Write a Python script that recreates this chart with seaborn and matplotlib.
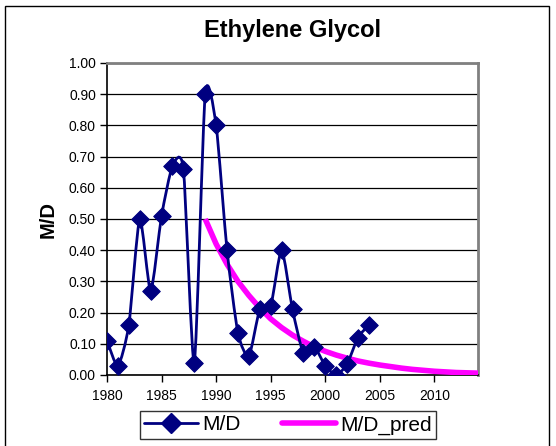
import numpy as np
import pandas as pd
import matplotlib
matplotlib.use("Agg")
import matplotlib.pyplot as plt
import seaborn as sns
from matplotlib.path import Path
from matplotlib.patches import PathPatch, Rectangle
from matplotlib.lines import Line2D

# observed M/D ratio per year
years = [1980, 1981, 1982, 1983, 1984, 1985, 1986, 1987, 1988, 1989, 1990, 1991,
         1992, 1993, 1994, 1995, 1996, 1997, 1998, 1999, 2000, 2001, 2002, 2003, 2004]
md = [0.11, 0.03, 0.16, 0.50, 0.27, 0.51, 0.67, 0.66, 0.04, 0.90, 0.80, 0.40,
      0.135, 0.06, 0.21, 0.22, 0.40, 0.21, 0.07, 0.09, 0.03, 0.00, 0.035, 0.12, 0.16]

# predicted M/D
pred_years = list(range(1989, 2015))
md_pred = [0.50, 0.42, 0.355, 0.30, 0.255, 0.215, 0.18, 0.152, 0.128, 0.108, 0.09,
           0.076, 0.064, 0.054, 0.045, 0.038, 0.032, 0.027, 0.022, 0.018, 0.015,
           0.012, 0.010, 0.008, 0.007, 0.006]

NAVY = "#000080"
PINK = "#ff00ff"

sns.set_theme(style="white")
plt.rcParams["font.family"] = ["Liberation Sans", "DejaVu Sans"]
plt.rcParams["text.color"] = "black"
plt.rcParams["axes.labelcolor"] = "black"
plt.rcParams["xtick.color"] = "black"
plt.rcParams["ytick.color"] = "black"

fig = plt.figure(figsize=(5.56, 4.46), dpi=100)
ax = fig.add_axes([107 / 556, 1 - 375 / 446, (478 - 107) / 556, (375 - 63) / 446])


def smooth_path(xs, ys, t=0.11):
    # smoothed line as cubic bezier segments through the points
    x = np.asarray(xs, float)
    y = np.asarray(ys, float)
    n = len(x)
    verts = [(x[0], y[0])]
    codes = [Path.MOVETO]
    for i in range(n - 1):
        p0 = (x[max(i - 1, 0)], y[max(i - 1, 0)])
        p1 = (x[i], y[i])
        p2 = (x[i + 1], y[i + 1])
        p3 = (x[min(i + 2, n - 1)], y[min(i + 2, n - 1)])
        c1 = (p1[0] + (p2[0] - p0[0]) * t, p1[1] + (p2[1] - p0[1]) * t)
        c2 = (p2[0] - (p3[0] - p1[0]) * t, p2[1] - (p3[1] - p1[1]) * t)
        verts += [c1, c2, p2]
        codes += [Path.CURVE4] * 3
    return Path(verts, codes)


df_pred = pd.DataFrame({"year": pred_years, "val": md_pred})
sns.lineplot(data=df_pred, x="year", y="val", ax=ax, color=PINK, lw=4,
             solid_capstyle="butt", zorder=3)

ax.add_patch(PathPatch(smooth_path(years, md), fill=False, edgecolor=NAVY,
                       lw=2, zorder=4))
df = pd.DataFrame({"year": years, "val": md})
sns.scatterplot(data=df, x="year", y="val", ax=ax, marker="D", s=80,
                color=NAVY, edgecolor=NAVY, zorder=5)

ax.set_xlim(1980, 2014)
ax.set_ylim(0, 1.0)
ax.set_xticks(range(1980, 2015, 5))
ax.set_yticks(np.arange(0, 1.01, 0.1))
ax.set_yticklabels([f"{v:.2f}" for v in np.arange(0, 1.01, 0.1)])
ax.yaxis.grid(True, color="black", lw=0.9)
ax.xaxis.grid(False)
ax.set_axisbelow(True)
ax.tick_params(axis="both", which="major", direction="out", length=5, width=1,
               color="black", labelsize=10, left=True, bottom=True)
ax.tick_params(axis="x", pad=5)
ax.tick_params(axis="y", pad=3)
for s in ["left", "bottom"]:
    ax.spines[s].set_color("black")
    ax.spines[s].set_linewidth(1.2)
for s in ["top", "right"]:
    ax.spines[s].set_color("#808080")
    ax.spines[s].set_linewidth(2)

ax.set_xlabel("")
ax.set_ylabel("M/D", fontsize=14.5, fontweight="bold", labelpad=8)
ax.set_title("Ethylene Glycol", fontsize=17, fontweight="bold", pad=19)

handles = [
    Line2D([], [], color=NAVY, lw=2, marker="D", markersize=10),
    Line2D([], [], color=PINK, lw=4),
]
leg = fig.legend(handles, ["M/D", "M/D_pred"], loc="center",
                 bbox_to_anchor=(288 / 556, 1 - 425 / 446), ncol=2,
                 fontsize=15, frameon=True, fancybox=False, edgecolor="black",
                 handlelength=2.6, columnspacing=2.0, borderpad=0.2,
                 handletextpad=0.2, borderaxespad=0)
leg.get_frame().set_linewidth(1)

# outer chart border
fig.add_artist(Rectangle((5 / 556, -0.02), (549 - 5) / 556, 1 - 6 / 446 + 0.02,
                         transform=fig.transFigure, fill=False,
                         edgecolor="black", lw=1))

fig.savefig("out.png", dpi=100)
